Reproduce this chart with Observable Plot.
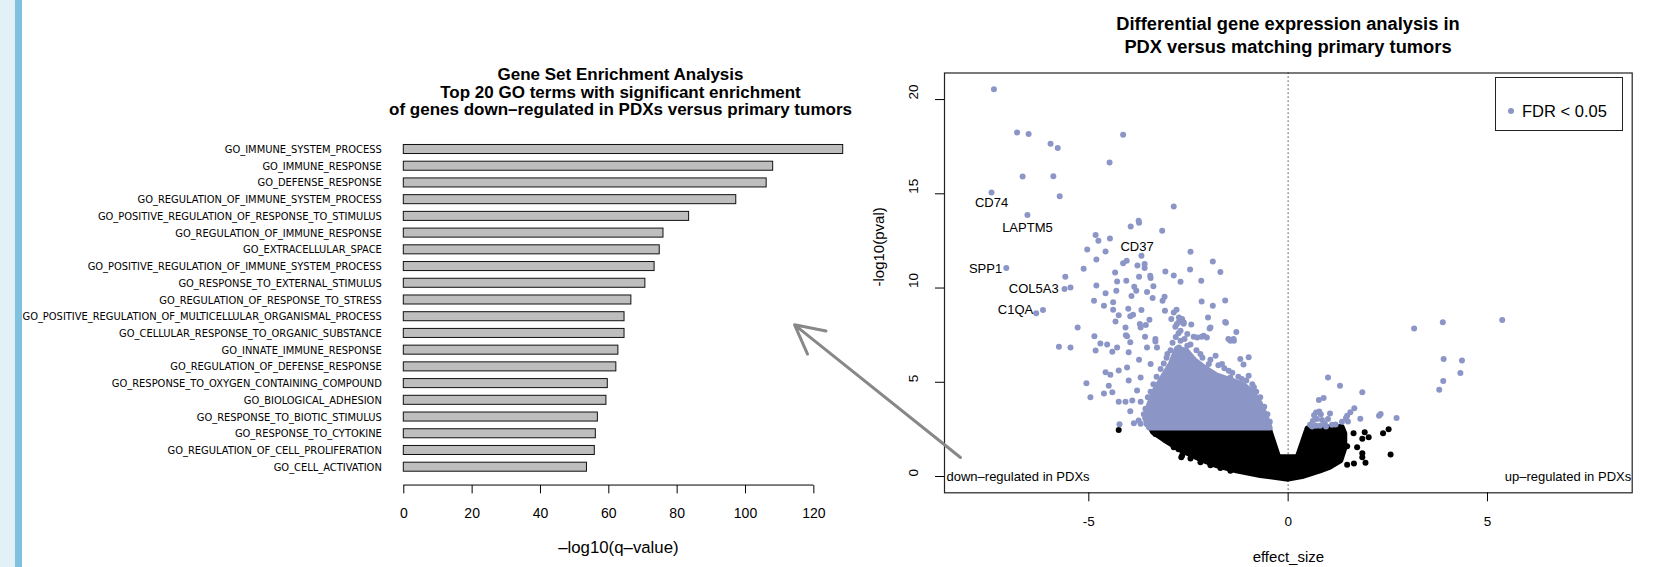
<!DOCTYPE html>
<html><head><meta charset="utf-8">
<script src="https://cdn.jsdelivr.net/npm/d3@7"></script>
<script src="https://cdn.jsdelivr.net/npm/@observablehq/plot@0.6"></script>
<style>
html,body{margin:0;padding:0;background:#fff;}
#root{position:relative;width:1662px;height:567px;overflow:hidden;font-family:"Liberation Sans",Arial,sans-serif;color:#000;}
.abs{position:absolute;}
.title{position:absolute;text-align:center;font-weight:bold;white-space:nowrap;}
</style></head><body><div id="root"></div>
<script>
// ---------- GSEA bar chart data ----------
const goTerms = [
  "GO_IMMUNE_SYSTEM_PROCESS","GO_IMMUNE_RESPONSE","GO_DEFENSE_RESPONSE",
  "GO_REGULATION_OF_IMMUNE_SYSTEM_PROCESS","GO_POSITIVE_REGULATION_OF_RESPONSE_TO_STIMULUS",
  "GO_REGULATION_OF_IMMUNE_RESPONSE","GO_EXTRACELLULAR_SPACE",
  "GO_POSITIVE_REGULATION_OF_IMMUNE_SYSTEM_PROCESS","GO_RESPONSE_TO_EXTERNAL_STIMULUS",
  "GO_REGULATION_OF_RESPONSE_TO_STRESS","GO_POSITIVE_REGULATION_OF_MULTICELLULAR_ORGANISMAL_PROCESS",
  "GO_CELLULAR_RESPONSE_TO_ORGANIC_SUBSTANCE","GO_INNATE_IMMUNE_RESPONSE",
  "GO_REGULATION_OF_DEFENSE_RESPONSE","GO_RESPONSE_TO_OXYGEN_CONTAINING_COMPOUND",
  "GO_BIOLOGICAL_ADHESION","GO_RESPONSE_TO_BIOTIC_STIMULUS","GO_RESPONSE_TO_CYTOKINE",
  "GO_REGULATION_OF_CELL_PROLIFERATION","GO_CELL_ACTIVATION"
];
const goValues = [128.6,108.1,106.2,97.3,83.5,76.0,74.9,73.4,70.7,66.6,64.6,64.6,62.8,62.2,59.7,59.3,56.8,56.2,55.9,53.6];
const gseaTicks = [0,20,40,60,80,100,120];
const gseaTitle = ["Gene Set Enrichment Analysis","Top 20 GO terms with significant enrichment","of genes down\u2013regulated in PDXs versus primary tumors"];
const gseaXLabel = "\u2013log10(q\u2013value)";

// ---------- Volcano data ----------
const volcanoTitle = ["Differential gene expression analysis in","PDX versus matching primary tumors"];
const volcanoXTicks = [-5,0,5];
const volcanoYTicks = [0,5,10,15,20];
// dense black cloud (not significant) outline [effect_size, -log10(pval)]
const blackCloud = [[-3.45,2.58],[-0.48,2.58],[-0.24,1.05],[0.23,1.05],[0.48,2.58],[1.35,2.65],[1.42,2.3],[1.42,1.5],[1.32,0.85],[1.05,0.5],[0.8,0.3],[0.35,0.0],[0,-0.14],[-0.7,0.05],[-1.3,0.3],[-1.8,0.58],[-2.25,0.95],[-2.7,1.4],[-3.12,1.95],[-3.4,2.35]];
// scattered black points
const blackPoints = [[-4.25,2.47],[-3.33,2.26],[-3.12,2.08],[-2.95,2.1],[-2.87,1.55],[-2.83,1.64],[-2.75,1.45],[-2.68,1.02],[-2.5,1.32],[-2.45,0.95],[-2.2,0.76],[-1.95,0.6],[-1.7,0.45],[-1.45,0.3],[-3.12,2.35],[-2.66,1.11],
  [1.92,2.35],[2.02,2.08],[1.86,2.0],[1.64,2.3],[2.38,2.3],[2.52,2.51],[2.57,1.17],[1.86,1.24],[1.94,0.73],[1.65,0.69],[1.48,0.62],[1.73,1.55],[1.48,1.6],[1.86,1.02]];
// dense blue cloud (FDR < 0.05) outline
const blueCloud = [[-3.5,2.58],[-0.45,2.58],[-0.55,3.2],[-0.7,3.9],[-0.9,4.5],[-1.1,4.85],[-1.4,5.1],[-1.8,5.4],[-2.1,5.8],[-2.35,6.2],[-2.55,6.7],[-2.8,6.8],[-2.95,6.0],[-3.15,5.3],[-3.35,4.6],[-3.5,3.8],[-3.6,3.1]];
// scattered blue points
const bluePoints = [
  [-7.38,20.55],[-6.80,18.25],[-6.51,18.18],[-5.96,17.66],[-5.78,17.43],[-4.14,18.14],[-4.48,16.66],[-6.66,15.92],[-5.89,15.93],[-7.44,15.07],[-5.73,14.87],[-2.87,14.33],[-6.54,13.87],[-3.75,13.57],
  [-3.95,13.27],[-3.74,13.46],[-3.16,13.04],[-4.83,12.81],[-4.76,12.51],[-4.47,12.63],[-5.04,12.05],[-4.58,11.94],[-2.45,11.92],[-4.81,11.52],[-5.13,11.02],[-4.14,11.32],[-4.05,11.45],[-3.68,11.71],[-3.78,11.2],[-3.60,11.27],[-3.6,11.06],[-1.89,11.41],[-2.46,10.99],[-1.70,10.85],[-3.08,10.88],[-4.34,10.83],[-3.46,10.65],[-3.45,10.53],[-2.87,10.67],[-2.70,10.33],[-2.18,10.39],[-3.74,10.6],[-5.59,10.6],[-5.61,9.95],[-5.46,10.03],[-4.81,10.14],[-4.29,10.35],[-4.06,10.39],[-3.86,10.07],[-3.38,10.09],[-4.31,9.86],[-4.58,9.72],[-3.93,9.58],[-3.81,9.86],[-3.54,9.79],[-3.40,9.47],[-3.10,9.54],[-3.15,9.33],[-2.17,9.29],[-1.58,9.34],[-1.89,9.06],[-4.87,9.33],[-4.62,9.06],[-4.39,9.24],[-4.39,8.85],[-4.01,8.9],[-3.68,8.83],[-4.25,8.55],[-3.96,8.51],[-3.89,8.58],[-3.48,8.32],[-4.33,8.23],[-3.72,8.09],[-3.57,8.04],[-3.09,8.8],[-2.80,8.85],[-2.87,8.7],[-2.93,8.36],[-2.74,8.44],[-2.66,8.36],[-2.62,8.18],[-2.79,8.09],[-2.43,8.06],[-2.01,8.44],[-1.97,7.86],[-1.56,8.16],[-1.30,7.67],[-5.28,7.9],[-4.86,7.44],[-4.07,7.49],[-4.04,7.44],[-3.59,7.42],[-3.33,7.3],[-2.70,7.74],[-2.53,7.56],[-2.28,7.38],[-2.17,7.42],[-1.5,7.3],[-1.37,7.3],
  [-7.07,11.06],[-6.32,8.66],[-6.15,8.83],
  [-5.75,6.89],[-5.46,6.85],[-4.71,7.06],[-4.83,6.68],[-4.54,7.0],[-4.29,6.85],[-4.41,6.62],[-3.96,7.12],[-4.0,6.59],[-3.54,6.85],[-3.33,7.17],[-3.29,6.85],[-3.70,7.91],[-4.08,7.91],[-4.58,5.53],[-4.46,5.4],[-4.25,5.62],[-4.04,5.79],[-5.06,4.95],[-4.96,4.2],[-4.62,4.41],[-4.41,4.47],[-4.5,4.82],[-4.0,5.09],[-4.25,3.97],[-4.08,3.97],[-3.91,4.03],[-3.96,3.46],[-3.70,3.97],[-3.79,4.56],[-3.70,5.26],[-3.45,5.97],[-3.74,6.2],[-4.23,2.77],[-3.87,2.83],[-3.70,2.8],[-3.03,6.5],[-2.87,6.33],[-2.74,6.85],[-2.70,7.2],[-2.53,6.94],[-2.37,7.42],[-2.12,7.47],[-2.04,7.38],[-2.83,7.95],[-2.74,8.2],[-2.62,8.1],[-1.95,7.91],[-1.58,8.2],[-1.45,7.2],[-1.36,7.2],[-1.82,6.41],[-1.99,5.97],[-1.66,5.97],[-2.20,6.5],[-1.20,6.24],[-0.99,6.33],[-1.12,5.94],[-0.99,5.35],[-1.16,5.18],[-0.86,4.73],[-1.45,5.26],[-1.49,5.61],[-3.75,2.97],[-3.55,2.79],
  [-3.62,3.3],[-3.58,3.6],[-3.52,4.2],[-3.45,4.5],[-3.38,4.9],[-3.3,5.3],[-3.2,5.7],[-3.12,6.0],[-3.05,6.3],[-2.95,6.7],[-2.9,7.1],[-2.82,7.4],[-2.75,7.6],
  [-2.6,7.3],[-2.45,7.0],[-2.3,6.7],[-2.15,6.3],[-1.95,6.2],[-1.75,5.9],[-1.6,5.75],[-1.4,5.5],[-1.25,5.3],[-1.05,5.1],[-0.9,4.9],[-0.8,4.5],[-0.7,4.2],[-0.6,3.7],[-0.52,3.3],[-0.46,2.9],
  [5.37,8.30],[3.88,8.18],[3.16,7.86],[3.90,6.24],[4.36,6.15],[4.32,5.49],[3.89,5.07],[3.79,4.61],[1.0,5.26],[1.30,4.82],[1.86,4.47],[0.77,4.06],[0.89,4.17],[1.66,3.62],[1.56,3.41],[1.48,3.23],[2.32,3.32],[2.28,3.23],[2.72,3.11],[1.81,3.06],[0.55,2.75],[0.62,2.95],[0.65,3.25],[0.7,3.4],[0.78,3.45],[0.82,3.3],[0.85,3.0],[0.92,2.8],[1.0,3.05],[1.05,3.35],[1.1,2.75],[0.72,3.05],[0.6,2.65],[0.95,2.65],[1.19,2.76],[1.35,2.9],[1.5,2.92],[1.45,3.1],[0.7,2.7],[0.8,2.7]
];
const geneNames = ["CD74","LAPTM5","CD37","SPP1","COL5A3","C1QA"];
const geneLabelX = [-7.44,-6.54,-3.79,-7.59,-6.38,-6.84];
const geneLabelY = [14.54,13.21,12.19,11.04,9.98,8.83];
const regionLabels = ["down\u2013regulated in PDXs","up\u2013regulated in PDXs"];
const arrowFrom = [-8.22,1.01];
const arrowTo = [-12.38,8.05];
const legendLabel = "FDR < 0.05";

const FONT = '"Liberation Sans", Arial, sans-serif';
const BLUE = "#8C96C6";
const root = document.getElementById("root");

// page decoration strip
const strip1 = document.createElement("div"); strip1.className="abs";
Object.assign(strip1.style,{left:"0px",top:"0px",width:"15px",height:"567px",background:"#e2f0f8"});
const strip2 = document.createElement("div"); strip2.className="abs";
Object.assign(strip2.style,{left:"15px",top:"0px",width:"7px",height:"567px",background:"#7fc2e0"});
root.append(strip1, strip2);

// ---------- left panel ----------
const gsea = goTerms.map((t,i)=>({term:t, value:goValues[i]}));
const left = Plot.plot({
  width: 880, height: 437,
  marginLeft: 403.3, marginRight: 32.5, marginTop: 10.64, marginBottom: 91.94,
  style: {background:"transparent", fontFamily: FONT, overflow:"visible", color:"#000"},
  x: {domain:[0,130]},
  y: {domain: goTerms, paddingInner: 0.46, paddingOuter: 0.23, round: false},
  marks: [
    Plot.barX(gsea, {x:"value", y:"term", fill:"#BEBEBE", stroke:"#111", strokeWidth:1}),
    Plot.axisY({tickSize:0, tickPadding:22, fontSize: 11, fontFamily:'"DejaVu Sans Condensed", "DejaVu Sans", sans-serif', label:null}),
    Plot.axisX({ticks: gseaTicks, tickSize: 8.3, tickPadding: 14, fontSize: 14, label:null, dy: 10, strokeWidth:1}),
    (index, scales, values, dimensions) => {
      const y = dimensions.height - dimensions.marginBottom + 10;
      return d3.create("svg:line")
        .attr("x1", scales.x(gseaTicks[0])).attr("x2", scales.x(gseaTicks[gseaTicks.length-1]))
        .attr("y1", y).attr("y2", y).attr("stroke","#000").attr("stroke-width",1).node();
    },
    Plot.text([gseaXLabel], {frameAnchor:"bottom", dx:-7.5, dy:72, fontSize:16.8, lineAnchor:"middle"})
  ]
});
left.style.position="absolute"; left.style.left="0px"; left.style.top="130px";
root.append(left);

const t1 = document.createElement("div"); t1.className="title";
Object.assign(t1.style,{left:(620.5-400)+"px", width:"800px", top:"66.25px", fontSize:"17px", lineHeight:"17.5px"});
t1.innerHTML = gseaTitle.join("<br>");
root.append(t1);

// ---------- right panel ----------
const toXY = a => a.map(([x,y])=>({x,y}));
const right = Plot.plot({
  width: 962, height: 507,
  marginLeft: 244, marginRight: 30.3, marginTop: 12.5, marginBottom: 74.7,
  style: {background:"transparent", fontFamily: FONT, overflow:"visible", color:"#000"},
  x: {domain:[-8.62, 8.63]},
  y: {domain:[-0.864, 21.41]},
  marks: [
    Plot.ruleX([0], {stroke:"#555", strokeDasharray:"1.3,2.7", strokeWidth:1.3}),
    Plot.line(toXY(blackCloud), {x:"x", y:"y", fill:"#000", stroke:"#000", strokeWidth:5, strokeLinejoin:"round", curve:"linear-closed"}),
    Plot.dot(toXY(blackPoints), {x:"x", y:"y", r:3, fill:"#000"}),
    Plot.line(toXY(blueCloud), {x:"x", y:"y", fill:BLUE, stroke:BLUE, strokeWidth:5, strokeLinejoin:"round", curve:"linear-closed"}),
    Plot.dot(toXY(bluePoints), {x:"x", y:"y", r:3, fill:BLUE}),
    Plot.text(geneNames, {x:(d,i)=>geneLabelX[i], y:(d,i)=>geneLabelY[i], text:d=>d, fontSize:13, fill:"#000"}),
    Plot.text([regionLabels[0]], {frameAnchor:"left", y:[0], textAnchor:"start", dx:2, fontSize:13}),
    Plot.text([regionLabels[1]], {frameAnchor:"right", y:[0], textAnchor:"end", dx:-1, fontSize:13}),
    Plot.frame({stroke:"#222", strokeWidth:1.2}),
    Plot.axisX({ticks: volcanoXTicks, tickSize: 9, tickPadding: 14.7, fontSize: 13.5, label:null, tickFormat: d=>String(d)}),
    Plot.axisY({ticks: volcanoYTicks, tickSize: 9, tickFormat: ()=>"", label:null}),
    Plot.text(volcanoYTicks, {y:d=>d, frameAnchor:"left", dx:-31, rotate:-90, text:d=>String(d), fontSize:13.5}),
    Plot.text(["effect_size"], {frameAnchor:"bottom", dy:64.7, fontSize:15, lineAnchor:"middle"}),
    Plot.text(["-log10(pval)"], {frameAnchor:"left", dx:-65, dy:3.6, rotate:-90, fontSize:15}),
    Plot.arrow([{x1:arrowFrom[0], y1:arrowFrom[1], x2:arrowTo[0], y2:arrowTo[1]}], {x1:"x1", y1:"y1", x2:"x2", y2:"y2", stroke:"#888", strokeWidth:3, headLength:16, headAngle:55})
  ]
});
right.style.position="absolute"; right.style.left="700px"; right.style.top="60px";
root.append(right);

const t2 = document.createElement("div"); t2.className="title";
Object.assign(t2.style,{left:(1288-400)+"px", width:"800px", top:"11.65px", fontSize:"18.3px", lineHeight:"23.3px"});
t2.innerHTML = volcanoTitle.join("<br>");
root.append(t2);

// legend
const lg = document.createElement("div"); lg.className="abs";
Object.assign(lg.style,{left:"1494.6px", top:"77.4px", width:"126.4px", height:"52px", border:"1.2px solid #222", background:"#fff"});
const ldot = document.createElement("div"); ldot.className="abs";
Object.assign(ldot.style,{left:(1510-1494.6-3)+"px", top:(110-77.4-3)+"px", width:"6px", height:"6px", borderRadius:"50%", background:BLUE});
const ltxt = document.createElement("div"); ltxt.className="abs";
Object.assign(ltxt.style,{left:(1521-1494.6)+"px", top:(110-77.4-10)+"px", fontSize:"16.5px", lineHeight:"20px", whiteSpace:"nowrap"});
ltxt.textContent = legendLabel;
lg.append(ldot, ltxt);
root.append(lg);
</script>
</body></html>
